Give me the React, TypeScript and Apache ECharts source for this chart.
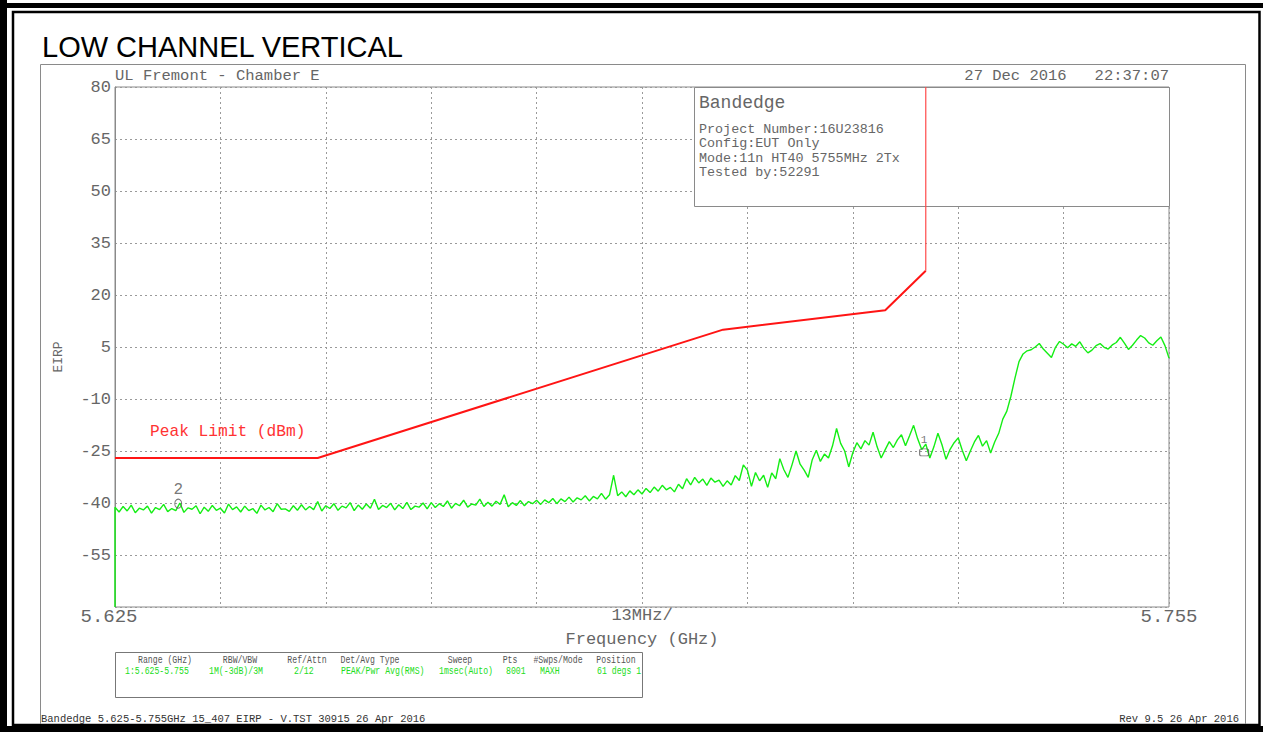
import React, { useEffect, useRef } from 'react';
import * as echarts from 'echarts';

// ---- data ----
const START_GHZ = 5.625;
const STOP_GHZ = 5.755;
const SPAN_MHZ = 130;
const STEP_MHZ = 0.5; // trace sample spacing (MHz offset from start)

const yMin = -70;
const yMax = 80;
const yStep = 15;
const xStepMHz = 13;

// x tick labels keyed by MHz offset from start
const xTickLabels: Record<number, string> = { 0: '5.625', 65: '13MHz/', 130: '5.755' };

// Peak limit (dBm) – breakpoints as MHz offset from 5.625 GHz
const limitMHz = [0, 25, 75, 95, 100, 100];
const limitDbm = [-27, -27, 10, 15.6, 27, 80];

// Measured trace (EIRP, dBm), one value every 0.5 MHz from 5.625 GHz
const traceStartDbm = -70;
const traceDbm = [
  // 5.625 – 5.648
  -41.2, -42.6, -41.0, -42.3, -40.6, -42.8, -41.5, -42.0, -40.9, -42.9,
  -41.3, -41.9, -40.4, -42.5, -41.6, -42.2, -40.0, -42.7, -41.4, -41.8,
  -40.8, -43.1, -41.2, -42.4, -40.7, -42.1, -41.5, -42.9, -40.3, -41.9,
  -41.1, -42.6, -40.9, -42.2, -41.6, -43.0, -40.6, -42.0, -41.3, -42.5,
  -40.2, -41.8, -41.7, -42.4, -40.8, -42.1,
  // 5.648 – 5.664
  -40.5, -42.0, -41.0, -41.9, -39.6, -42.3, -40.8, -41.6, -40.2, -42.1,
  -40.9, -41.4, -39.9, -42.2, -40.6, -41.8, -40.3, -41.5, -38.9, -41.9,
  -40.7, -41.3, -40.1, -42.0, -40.5, -41.6, -39.8, -41.9, -40.9, -41.2,
  -40.0, -41.7,
  // 5.664 – 5.677
  -39.9, -41.3, -40.2, -41.0, -39.4, -41.5, -40.1, -40.8, -39.2, -41.2,
  -40.3, -40.6, -38.9, -41.0, -39.8, -40.9, -39.5, -40.4, -37.6, -41.1,
  -39.9, -40.7, -39.3, -40.8, -39.6, -40.2,
  // 5.677 – 5.690
  -39.2, -40.4, -39.1, -39.9, -38.7, -40.2, -38.8, -39.6, -38.3, -39.7,
  -38.5, -39.1, -37.9, -39.4, -38.1, -38.8, -37.2, -38.9, -37.6, -32.0,
  -37.9, -36.8, -38.2, -36.5, -37.6, -36.2,
  // 5.690 – 5.703
  -37.4, -35.8, -37.0, -35.4, -36.6, -34.9, -36.2, -35.5, -36.8, -34.6,
  -35.9, -33.0, -34.8, -32.6, -34.2, -33.1, -34.9, -32.8, -34.0, -33.4,
  -35.2, -33.6, -34.8, -32.1, -33.5, -29.0,
  // 5.703 – 5.716
  -30.5, -35.2, -31.2, -33.6, -32.0, -35.5, -31.3, -33.0, -27.2, -30.4,
  -32.6, -29.0, -25.0, -28.8, -30.5, -32.6, -27.5, -24.8, -28.0, -25.9,
  -27.0, -23.5, -18.5, -22.8, -25.0, -29.6,
  // 5.716 – 5.734
  -25.5, -22.6, -24.4, -22.0, -23.3, -19.6, -23.8, -27.0, -24.6, -22.3,
  -24.0, -21.8, -20.3, -23.5, -20.6, -17.6, -21.5, -24.6, -23.0, -27.0,
  -23.8, -19.9, -23.2, -27.4, -24.5, -22.6, -21.2, -24.8, -27.8, -25.0,
  -22.4, -20.5, -23.6, -22.0, -25.6, -22.4, -19.9,
  // 5.7345 – 5.7385 (band edge rise)
  -15.8, -13.5, -9.2, -4.0, 0.8, 3.0, 3.9, 4.2, 5.0,
  // 5.739 – 5.755
  6.0, 4.4, 3.2, 2.0, 4.9, 6.6, 5.8, 4.8, 5.9, 5.2,
  6.5, 4.6, 3.3, 4.1, 5.4, 6.0, 4.9, 4.4, 5.6, 6.3,
  7.8, 6.1, 4.3, 5.5, 7.0, 8.3, 7.6, 6.2, 5.5, 6.8,
  7.9, 5.4, 1.8,
];

// Markers
const markerNames = ['1', '2'];
const markerMHz = [99.8, 7.8];
const markerDbm = [-25.4, -40.2];

// Texts
const titleText = 'LOW CHANNEL VERTICAL';
const siteText = 'UL Fremont - Chamber E';
const dateText = '27 Dec 2016   22:37:07';
const boxTitle = 'Bandedge';
const boxLines = ['Project Number:16U23816', 'Config:EUT Only', 'Mode:11n HT40 5755MHz 2Tx', 'Tested by:52291'];
const tableHeaders = ['Range (GHz)', 'RBW/VBW', 'Ref/Attn', 'Det/Avg Type', 'Sweep', 'Pts', '#Swps/Mode', 'Position'];
const tableValues = ['1:5.625-5.755', '1M(-3dB)/3M', '2/12', 'PEAK/Pwr Avg(RMS)', '1msec(Auto)', '8001', 'MAXH', '61 degs 1'];
const footerLeft = 'Bandedge 5.625-5.755GHz 15_407 EIRP - V.TST 30915 26 Apr 2016';
const footerRight = 'Rev 9.5 26 Apr 2016';
const limitLabel = 'Peak Limit (dBm)';

// ---- layout / style ----
const MONO = "'Liberation Mono', 'DejaVu Sans Mono', monospace";
const SANS = "'Liberation Sans', Arial, sans-serif";
const GRAY = '#666666';
const headerCenters = [165, 240, 307, 370, 460, 510, 558, 616];
const valueLefts = [125, 209, 294, 341, 439, 506, 540, 597];

function buildOption() {
  const traceData: number[][] = [[0, traceStartDbm]];
  traceDbm.forEach((v, i) => traceData.push([i * STEP_MHZ, v]));
  const limitData = limitMHz.map((m, i) => [m, limitDbm[i]]);

  const txt = (x: number, y: number, text: string, size: number, extra: any = {}, el: any = {}) => ({
    type: 'text',
    x,
    y,
    z: 3,
    ...el,
    style: {
      text,
      fontFamily: MONO,
      fontSize: size,
      fill: GRAY,
      textVerticalAlign: 'middle',
      ...extra,
    },
  });

  const graphics: any[] = [
    // page frame
    { type: 'rect', shape: { x: 0, y: 0, width: 7, height: 732 }, style: { fill: '#000' } },
    { type: 'rect', shape: { x: 0, y: 3, width: 1263, height: 5 }, style: { fill: '#000' } },
    { type: 'rect', shape: { x: 0, y: 726, width: 1263, height: 6 }, style: { fill: '#000' } },
    { type: 'rect', shape: { x: 13, y: 12, width: 1246.5, height: 713 }, style: { fill: 'none', stroke: '#000', lineWidth: 2.5 } },
    // instrument frame
    {
      type: 'polyline',
      shape: { points: [[40.5, 724], [40.5, 64.5], [1245.5, 64.5], [1245.5, 724]] },
      style: { fill: 'none', stroke: '#8a8a8a', lineWidth: 1 },
    },
    {
      type: 'text', x: 42, y: 47,
      style: { text: titleText, fontFamily: SANS, fontSize: 29, fill: '#000', textVerticalAlign: 'middle' },
    },
    txt(115, 76, siteText, 15.5),
    txt(1169, 76, dateText, 15.5, { textAlign: 'right' }),
    // annotation box
    {
      type: 'rect', z: 1,
      shape: { x: 694.5, y: 87.5, width: 475, height: 119 },
      style: { fill: '#fff', stroke: '#8a8a8a', lineWidth: 1 },
    },
    txt(699, 103, boxTitle, 18),
    ...boxLines.map((l, i) => txt(699, 129 + i * 14.5, l, 13.4)),
    txt(150, 432, limitLabel, 16.2, { fill: '#ff3333' }),
    // settings table
    {
      type: 'rect',
      shape: { x: 115.5, y: 652.5, width: 527, height: 45 },
      style: { fill: 'none', stroke: '#777', lineWidth: 1 },
    },
    ...tableHeaders.map((h, i) => txt(headerCenters[i], 660, h, 10.5, { textAlign: 'center', fill: '#555' }, { scaleX: 0.78 })),
    ...tableValues.map((v, i) => txt(valueLefts[i], 671, v, 10.5, { fill: '#22dd22' }, { scaleX: 0.78 })),
    txt(41, 719, footerLeft, 10.5, { fill: '#333' }),
    txt(1239, 719, footerRight, 10.5, { fill: '#333', textAlign: 'right' }),
  ];

  return {
    animation: false,
    backgroundColor: '#fff',
    grid: {
      left: 115,
      top: 87,
      width: 1054,
      height: 520,
      show: true,
      borderColor: '#8a8a8a',
      borderWidth: 1,
      containLabel: false,
    },
    xAxis: {
      type: 'value',
      min: 0,
      max: SPAN_MHZ,
      interval: xStepMHz,
      name: 'Frequency (GHz)',
      nameLocation: 'middle',
      nameGap: 19,
      nameTextStyle: { fontFamily: MONO, fontSize: 17, color: GRAY },
      axisLine: { show: false },
      axisTick: { show: false },
      axisLabel: {
        margin: 0,
        showMinLabel: true,
        showMaxLabel: true,
        formatter: (v: number) => {
          const key = Math.round(v);
          const t = xTickLabels[key];
          if (!t) return '';
          if (key === 0) return '{a|' + t + '}';
          if (key === SPAN_MHZ) return '{b|' + t + '}';
          return '{m|' + t + '}';
        },
        rich: {
          a: { fontFamily: MONO, fontSize: 19, color: GRAY, padding: [0, 12, 0, 0] },
          b: { fontFamily: MONO, fontSize: 19, color: GRAY },
          m: { fontFamily: MONO, fontSize: 17, color: GRAY },
        },
      },
      splitLine: { show: true, lineStyle: { color: '#9a9a9a', type: [2, 3], width: 1 } },
    },
    yAxis: {
      type: 'value',
      min: yMin,
      max: yMax,
      interval: yStep,
      name: 'EIRP',
      nameLocation: 'middle',
      nameGap: 50,
      nameTextStyle: { fontFamily: MONO, fontSize: 13, color: GRAY, padding: [0, 20, 0, 0] },
      axisLine: { show: true, lineStyle: { color: '#8a8a8a' } },
      axisTick: { show: false },
      axisLabel: {
        margin: 4,
        fontFamily: MONO,
        fontSize: 17,
        color: GRAY,
        formatter: (v: number) => (v === yMin ? '' : String(v)),
      },
      splitLine: { show: true, lineStyle: { color: '#9a9a9a', type: [2, 3], width: 1 } },
    },
    graphic: graphics,
    series: [
      {
        type: 'line',
        name: 'trace',
        data: traceData,
        showSymbol: false,
        symbol: 'none',
        z: 3,
        lineStyle: { color: '#14ee14', width: 1.4 },
      },
      {
        type: 'line',
        name: 'limit',
        data: limitData.slice(0, 5),
        showSymbol: false,
        symbol: 'none',
        z: 4,
        lineStyle: { color: '#ff1414', width: 2 },
      },
      {
        type: 'line',
        name: 'limitEdge',
        data: limitData.slice(4),
        showSymbol: false,
        symbol: 'none',
        z: 4,
        lineStyle: { color: '#ff4a4a', width: 1.2 },
      },
      {
        type: 'scatter',
        name: 'markers',
        z: 5,
        data: markerMHz.map((m, i) => ({
          value: [m, markerDbm[i]],
          name: markerNames[i],
          symbol: i === 0 ? 'roundRect' : 'circle',
          symbolSize: i === 0 ? [9, 7] : [7, 9],
          label: {
            show: true,
            position: 'top',
            distance: i === 0 ? 3 : 1,
            formatter: markerNames[i],
            fontFamily: MONO,
            fontSize: i === 0 ? 11 : 16,
            color: '#555',
          },
        })),
        itemStyle: { color: 'rgba(0,0,0,0)', borderColor: '#555', borderWidth: 1 },
      },
    ],
  };
}

export default function App() {
  const ref = useRef<HTMLDivElement>(null);
  useEffect(() => {
    if (!ref.current) return;
    const chart = echarts.init(ref.current, null, { renderer: 'svg' });
    chart.setOption(buildOption() as any);
    return () => chart.dispose();
  }, []);
  return (
    <div
      ref={ref}
      style={{ position: 'fixed', left: 0, top: 0, width: 1263, height: 732, background: '#fff' }}
    />
  );
}
